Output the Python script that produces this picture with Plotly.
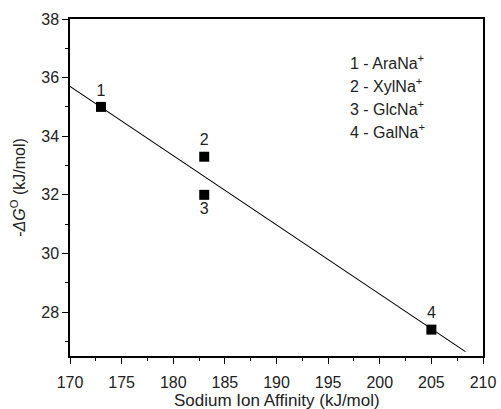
import plotly.graph_objects as go

# data
affinity = [173, 183, 183, 205]
neg_dG = [35.0, 33.3, 32.0, 27.4]
point_labels = ["1", "2", "3", "4"]
label_pos = ["top center", "top center", "bottom center", "top center"]
fit_x = [170, 208.3]
fit_y = [35.7, 26.65]
legend_lines = ["1 - AraNa<sup>+</sup>", "2 - XylNa<sup>+</sup>",
                "3 - GlcNa<sup>+</sup>", "4 - GalNa<sup>+</sup>"]
x_title = "Sodium Ion Affinity (kJ/mol)"
y_title = "-<i>ΔG</i><sup>O</sup> (kJ/mol)"

FONT = "Liberation Sans, Arial, Helvetica, sans-serif"
TXT = "#222"

fig = go.Figure()
fig.add_trace(go.Scatter(x=fit_x, y=fit_y, mode="lines",
                         line=dict(color="black", width=1.1), showlegend=False,
                         hoverinfo="skip"))
fig.add_trace(go.Scatter(x=affinity, y=neg_dG, mode="markers+text",
                         marker=dict(symbol="square", size=10, color="black"),
                         text=point_labels, textposition=label_pos,
                         textfont=dict(size=16, color=TXT, family=FONT),
                         showlegend=False))

for i, t in enumerate(legend_lines):
    fig.add_annotation(x=0.672, y=0.872 - i * 0.068, xref="paper", yref="paper",
                       text=t, showarrow=False, xanchor="left", yanchor="middle",
                       font=dict(size=16, color=TXT, family=FONT))

# x-axis title placed below the tick labels
fig.add_annotation(x=0.5, y=-0.131, xref="paper", yref="paper", text=x_title,
                   showarrow=False, xanchor="center", yanchor="middle",
                   font=dict(size=17, color=TXT, family=FONT))

axis_common = dict(showline=True, linecolor="black", linewidth=1.5, mirror=True,
                   ticks="outside", ticklen=6, tickwidth=1.2, tickcolor="black",
                   showgrid=False, zeroline=False, ticklabeloverflow="allow",
                   automargin=False,
                   tickfont=dict(size=16, color=TXT, family=FONT))

fig.update_xaxes(range=[170, 210], tick0=170, dtick=5, ticklabelstandoff=5,
                 minor=dict(ticks="outside", ticklen=3, tickwidth=1, dtick=2.5, tickcolor="black"),
                 **axis_common)
fig.update_yaxes(range=[26.5, 38], tick0=28, dtick=2,
                 minor=dict(ticks="outside", ticklen=3, tickwidth=1, dtick=1, tickcolor="black"),
                 title=dict(text=y_title, standoff=12,
                            font=dict(size=16, color=TXT, family=FONT)),
                 **axis_common)

fig.update_layout(width=501, height=409, margin=dict(l=70, r=18, t=19, b=53),
                  plot_bgcolor="white", paper_bgcolor="white",
                  font=dict(family=FONT, color=TXT))

fig.write_html("out.html", config={"displayModeBar": False},
               post_script="document.body.style.margin='0';document.body.style.overflow='hidden';")
